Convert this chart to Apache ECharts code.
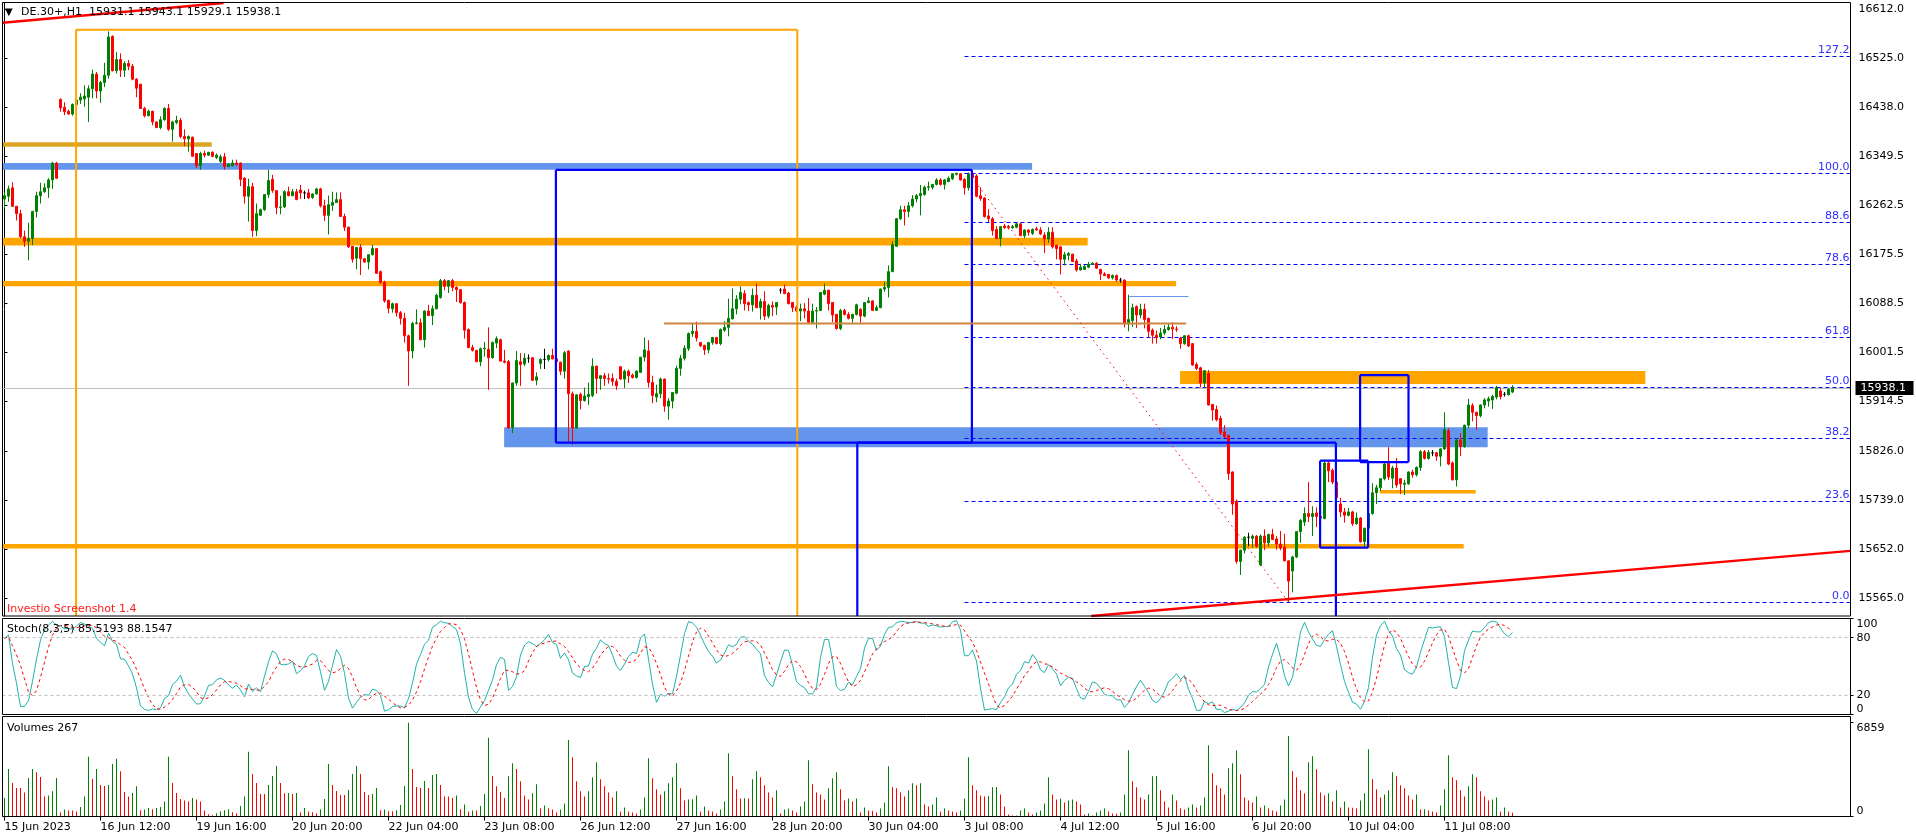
<!DOCTYPE html>
<html><head><meta charset="utf-8">
<script src="https://cdn.jsdelivr.net/npm/echarts@6.0.0/dist/echarts.min.js"></script>
<style>html,body{margin:0;padding:0;background:#fff;overflow:hidden}#c{width:1916px;height:840px}</style>
</head><body><div id="c"></div>
<script>
// ---------- categories (trading sessions, H1 bars) ----------
const dayLabels = ['15 Jun','16 Jun','19 Jun','20 Jun','21 Jun','22 Jun','23 Jun','26 Jun','27 Jun','28 Jun','29 Jun','30 Jun','3 Jul','4 Jul','5 Jul','6 Jul','7 Jul','10 Jul','11 Jul','12 Jul'];
const firstDayStartHour = 8, sessionStartHour = 2, sessionEndHour = 21;
const firstLabel = '15 Jun 2023';
const labelEvery = 24;

// ---------- OHLC (DE.30+, H1) ----------
const opens = [16274,16279,16294,16261,16248,16207,16199,16204,16252,16280,16287,16294,16308,16338,16451,16437,16430,16425,16442,16450,16452,16455,16470,16496,16466,16481,16494,16563,16502,16522,16503,16515,16510,16487,16478,16435,16422,16430,16411,16401,16415,16435,16398,16410,16414,16385,16381,16384,16355,16333,16355,16352,16357,16348,16341,16349,16332,16333,16338,16338,16311,16279,16296,16218,16245,16255,16282,16309,16289,16259,16260,16287,16280,16287,16290,16285,16285,16277,16283,16292,16262,16245,16263,16268,16273,16243,16224,16190,16169,16188,16168,16162,16175,16186,16145,16126,16094,16079,16088,16072,16062,16031,16004,16053,16054,16024,16075,16067,16079,16099,16129,16119,16129,16117,16113,16090,16042,16010,16005,15985,16008,16007,15992,16018,16024,15986,15985,15868,15947,15985,15981,15991,15992,15952,15982,15989,15989,15996,15990,15984,15968,16004,15928,15867,15927,15916,15923,15925,15977,15955,15960,15955,15955,15950,15976,15954,15968,15961,15957,15966,15993,16004,15948,15922,15928,15954,15906,15915,15929,15973,15991,16008,16035,16039,16019,16014,16006,16019,16028,16017,16041,16046,16061,16079,16096,16106,16090,16086,16103,16081,16092,16066,16085,16082,16112,16114,16107,16090,16082,16075,16079,16075,16055,16075,16076,16105,16112,16090,16069,16044,16076,16069,16062,16069,16078,16066,16090,16093,16076,16081,16114,16117,16145,16190,16239,16255,16252,16262,16274,16280,16282,16295,16295,16300,16308,16300,16305,16310,16318,16319,16309,16294,16318,16315,16280,16276,16244,16239,16220,16204,16226,16225,16223,16224,16230,16209,16219,16213,16221,16219,16210,16203,16215,16192,16189,16167,16174,16176,16164,16148,16149,16153,16158,16160,16149,16141,16140,16134,16138,16130,16130,16052,16058,16083,16068,16078,16062,16041,16032,16029,16036,16042,16046,16043,16027,16017,16031,16017,15980,15974,15947,15964,15909,15900,15884,15860,15854,15789,15737,15630,15650,15673,15671,15675,15624,15675,15663,15678,15670,15661,15655,15631,15613,15638,15683,15700,15715,15710,15716,15710,15706,15805,15792,15771,15732,15718,15712,15718,15697,15707,15665,15689,15715,15752,15761,15777,15804,15778,15796,15777,15767,15768,15789,15784,15797,15825,15813,15823,15823,15817,15830,15862,15805,15775,15846,15834,15872,15907,15895,15889,15908,15915,15917,15922,15933,15927,15926,15931.1];
const highs = [16286,16298,16304,16262,16255,16218,16232,16253,16287,16303,16302,16311,16340,16340,16453,16446,16433,16444,16454,16462,16476,16476,16504,16500,16484,16516,16572,16565,16535,16533,16519,16521,16514,16489,16479,16438,16433,16431,16412,16421,16437,16443,16413,16422,16418,16398,16387,16385,16355,16358,16360,16358,16359,16355,16353,16356,16337,16344,16344,16339,16313,16310,16303,16266,16257,16283,16326,16317,16290,16280,16290,16296,16292,16292,16299,16289,16292,16284,16294,16294,16273,16280,16287,16286,16286,16248,16225,16190,16189,16194,16169,16176,16193,16187,16147,16129,16095,16090,16089,16075,16072,16033,16056,16078,16062,16076,16086,16085,16106,16132,16132,16130,16132,16119,16114,16092,16044,16015,16006,16010,16020,16046,16021,16030,16026,16006,15988,15948,16004,16000,16000,15998,15993,15966,15991,16008,15998,16008,15993,15985,16004,16005,15932,15927,15930,15939,15948,15991,15978,15961,15965,15964,15964,15955,15977,15971,15971,15964,15970,15993,16028,16023,15960,15944,15957,15955,15920,15931,15978,15997,16014,16037,16053,16056,16020,16015,16020,16029,16029,16044,16057,16097,16115,16103,16119,16112,16092,16115,16124,16097,16110,16088,16092,16091,16116,16122,16109,16091,16085,16088,16089,16098,16088,16082,16109,16124,16113,16091,16070,16079,16079,16073,16070,16088,16080,16091,16100,16094,16085,16115,16127,16156,16199,16240,16262,16262,16269,16281,16283,16299,16298,16305,16301,16311,16311,16310,16314,16319,16320,16320,16311,16321,16320,16318,16295,16277,16256,16242,16226,16226,16230,16228,16228,16232,16231,16220,16220,16222,16225,16224,16215,16224,16224,16193,16190,16180,16180,16177,16168,16159,16157,16162,16162,16162,16150,16144,16141,16140,16140,16134,16131,16104,16088,16085,16088,16088,16063,16044,16040,16045,16050,16052,16055,16048,16029,16032,16033,16018,15984,15976,15970,15970,15910,15907,15889,15872,15855,15790,15740,15651,15675,15681,15678,15677,15678,15687,15679,15688,15675,15684,15679,15632,15640,15684,15705,15726,15771,15728,15726,15715,15808,15808,15795,15772,15743,15725,15725,15720,15717,15709,15690,15716,15769,15766,15778,15805,15833,15800,15814,15778,15775,15790,15793,15799,15828,15828,15828,15828,15825,15831,15895,15867,15808,15849,15858,15873,15919,15911,15896,15909,15920,15923,15926,15942,15938,15931,15938,15943.1];
const lows = [16257,16269,16260,16236,16205,16189,16165,16192,16241,16266,16285,16276,16292,16310,16429,16423,16424,16422,16438,16443,16438,16411,16453,16453,16445,16473,16488,16501,16497,16491,16491,16503,16485,16455,16434,16419,16421,16405,16400,16398,16413,16395,16376,16407,16382,16368,16358,16349,16329,16326,16348,16351,16348,16345,16338,16326,16331,16333,16333,16297,16266,16234,16207,16208,16244,16253,16276,16285,16247,16247,16258,16279,16279,16272,16274,16274,16274,16274,16282,16259,16235,16211,16253,16267,16242,16217,16187,16161,16149,16139,16161,16149,16174,16141,16123,16090,16071,16072,16065,16051,16019,15942,15991,16051,16023,16010,16066,16050,16078,16097,16112,16107,16110,16091,16088,16026,16009,16003,15984,15977,15994,15935,15990,16009,15985,15982,15866,15858,15942,15942,15977,15983,15951,15943,15972,15972,15985,15989,15980,15961,15955,15843,15837,15866,15900,15914,15908,15922,15928,15935,15942,15946,15942,15935,15953,15938,15947,15955,15955,15965,15985,15939,15911,15913,15920,15896,15882,15902,15927,15960,15987,16004,16029,16021,16011,15997,16000,16015,16016,16014,16038,16030,16060,16069,16087,16076,16075,16074,16080,16060,16059,16062,16066,16068,16106,16105,16087,16073,16073,16057,16062,16052,16053,16044,16075,16103,16076,16055,16042,16041,16067,16060,16054,16067,16054,16064,16089,16075,16075,16080,16109,16099,16144,16189,16237,16227,16242,16259,16268,16245,16280,16289,16291,16298,16298,16291,16304,16308,16316,16307,16282,16289,16305,16277,16271,16241,16233,16209,16203,16190,16221,16220,16221,16222,16208,16204,16209,16210,16218,16210,16178,16196,16186,16167,16140,16156,16165,16162,16145,16147,16148,16151,16157,16150,16130,16137,16132,16131,16127,16125,16046,16039,16047,16045,16062,16044,16028,16017,16017,16025,16032,16040,16025,16038,16008,16015,16011,15978,15970,15939,15938,15907,15880,15879,15855,15849,15775,15713,15626,15606,15644,15657,15654,15654,15622,15650,15656,15668,15651,15650,15630,15558,15575,15636,15663,15693,15700,15675,15691,15700,15705,15771,15767,15731,15709,15699,15710,15693,15695,15663,15656,15686,15713,15732,15755,15774,15775,15760,15761,15750,15748,15766,15779,15781,15791,15811,15811,15817,15809,15799,15828,15801,15774,15763,15817,15832,15867,15879,15864,15886,15902,15905,15901,15918,15918,15923,15925,15929.1];
const closes = [16280,16292,16261,16248,16207,16199,16204,16252,16280,16287,16294,16308,16338,16311,16436,16429,16425,16442,16450,16455,16457,16470,16496,16466,16481,16494,16562,16502,16522,16503,16515,16510,16487,16471,16435,16422,16430,16411,16401,16415,16435,16398,16411,16414,16385,16381,16385,16350,16333,16355,16352,16357,16350,16352,16349,16332,16336,16338,16335,16309,16279,16296,16218,16248,16255,16282,16307,16289,16259,16260,16287,16280,16287,16273,16285,16285,16276,16283,16292,16262,16245,16264,16268,16273,16243,16224,16189,16167,16188,16168,16162,16175,16186,16142,16126,16093,16080,16088,16072,16062,16031,16004,16053,16054,16024,16075,16067,16079,16103,16129,16119,16129,16117,16113,16090,16041,16010,16005,15985,16008,16009,15992,16019,16026,15986,15984,15867,15947,15987,15980,15991,15991,15952,15958,15989,15989,15996,15990,15985,15968,16001,15928,15867,15926,15916,15924,15927,15977,15955,15960,15955,15954,15950,15942,15954,15968,15960,15957,15968,15993,16006,15948,15925,15928,15954,15906,15915,15930,15973,15991,16009,16035,16039,16027,16013,16006,16019,16028,16017,16042,16046,16062,16079,16096,16108,16088,16086,16103,16081,16092,16066,16085,16082,16090,16112,16106,16088,16081,16075,16079,16075,16055,16075,16076,16108,16112,16088,16068,16044,16076,16069,16062,16069,16086,16066,16090,16093,16076,16081,16114,16117,16145,16193,16239,16255,16252,16262,16274,16280,16284,16295,16296,16300,16308,16300,16308,16311,16319,16320,16308,16294,16318,16312,16279,16275,16243,16239,16218,16204,16225,16223,16223,16225,16230,16209,16219,16215,16220,16219,16212,16203,16215,16189,16186,16167,16175,16177,16163,16148,16153,16154,16158,16160,16151,16141,16138,16134,16138,16130,16130,16052,16060,16081,16068,16078,16060,16039,16032,16028,16036,16042,16046,16043,16042,16017,16031,16013,15979,15973,15947,15969,15908,15899,15882,15858,15852,15786,15732,15630,15650,15673,15673,15675,15657,15675,15663,15678,15669,15661,15654,15631,15595,15638,15683,15703,15715,15710,15715,15710,15707,15805,15791,15771,15743,15718,15712,15718,15697,15707,15665,15689,15715,15752,15761,15777,15803,15780,15796,15766,15768,15769,15789,15784,15797,15825,15813,15824,15823,15817,15830,15864,15803,15775,15846,15834,15872,15908,15895,15889,15908,15917,15919,15923,15939,15923,15927,15936,15938.1];
const volumes = [1348,3479,2450,2083,2075,1764,2818,3480,3234,2891,1470,1544,1838,2818,294,515,441,440,368,686,1470,4361,2744,3479,2303,2230,2303,3847,4214,3308,1789,1470,1715,2205,466,515,613,539,613,686,1103,4361,2450,1715,1274,1176,1103,1348,1250,1103,441,172,98,245,392,466,539,319,245,760,1470,4729,3112,2450,1642,1640,2303,2965,3700,2450,1691,1715,1642,1715,294,613,368,319,245,539,1274,3847,2303,1862,1568,1565,1936,3112,3700,3112,1789,1568,1642,2083,466,515,392,390,466,833,2230,6859,3479,2156,2083,2597,2083,3038,3112,2303,1470,1465,1348,1544,539,882,368,441,438,760,1642,5758,2965,2205,1789,1348,2940,3896,3479,2573,1544,1250,1691,2352,588,809,588,515,294,515,956,5586,4337,2573,1838,1470,1838,2867,3969,2720,2205,1764,1397,1838,368,662,368,294,221,515,1397,4263,2793,1985,1617,1838,2426,2867,3896,2058,1176,1250,1260,1544,368,735,441,368,221,515,1103,4631,2940,1985,1323,1330,1320,2720,3308,2867,2279,1764,1397,1911,221,515,588,441,294,735,1103,4116,2352,1764,1617,1250,2058,2793,3234,1985,1176,1323,1103,1323,294,662,441,417,294,588,1029,3675,2132,2058,1764,1470,1911,2426,2279,2426,882,735,882,1397,368,588,441,368,294,441,1323,4337,2279,1911,1544,1470,1495,2132,2156,1617,735,147,74,80,441,588,294,147,294,441,956,2867,1617,1250,1323,1029,1176,1250,1103,882,147,221,74,294,441,588,368,221,196,294,1617,4851,2573,2132,1397,1250,1617,2940,2965,1911,1103,662,1617,1176,588,515,662,882,662,809,1397,5219,3161,2279,2058,1617,3528,3896,4851,3087,1397,1176,1029,1470,662,809,588,441,368,809,1250,5880,3308,2867,1911,1691,3969,4410,3455,1764,1544,1691,1103,1911,662,1103,662,637,588,1176,1691,4925,2720,1985,1397,1617,1911,3234,2940,2279,2058,1544,1250,1617,515,539,441,368,294,809,1985,4484,2867,2646,1911,1470,2205,3087,2867,1838,1470,1176,1250,1397,368,662,368,267];

// ---------- axis tick labels ----------
const priceTicks = [16612.0,16525.0,16438.0,16349.5,16262.5,16175.5,16088.5,16001.5,15914.5,15826.0,15739.0,15652.0,15565.0];
const stochTicks = [0,20,80,100];
const volumeTicks = [0,6859];
const lastPrice = 15938.1;

// ---------- Fibonacci ----------
const fibHigh = 16321, fibLow = 15558, fibStartBar = 240;
const fibLevels = [0, 23.6, 38.2, 50, 61.8, 78.6, 88.6, 100, 127.2];
const fibDiagonal = [241, 16321, 321, 15558];

// ---------- drawn objects (bar index, price) ----------
const blueBands   = [[-5, 256.9, 16326, 16338], [124.9, 370.8, 15833, 15868.4]];
const goldBands   = [[-5, 51.8, 16367, 16375]];
const orangeBands = [[-5, 270.8, 16191.4, 16205], [-5, 292.9, 16118.8, 16128.4], [-5, 364.8, 15653, 15661], [293.9, 410.2, 15945.3, 15968.3], [343.8, 367.8, 15750.5, 15757]];
const orangeFrames = [[17.9, 198.2, 15300, 16575]];
const blueFrames   = [[137.85, 241.85, 15841, 16326], [213.2, 332.85, 15300, 15841], [328.9, 340.9, 15654.4, 15809], [338.9, 351, 15806.6, 15961]];
const peruLines    = [[164.9, 295.4, 16053]];
const lightBlueLines = [[281.2, 296, 16102]];
const redRays = [[0, 16587.5, 54, 16621.9], [284, 15540.5, 462, 15649]];

// ---------- derived ----------
const N = opens.length, SLOTS = 462;
const cats = [];
dayLabels.forEach((d, k) => {
  for (let h = (k === 0 ? firstDayStartHour : sessionStartHour); h <= sessionEndHour; h++)
    cats.push(d + ' ' + String(h).padStart(2, '0') + ':00');
});
cats.length = N;
while (cats.length < SLOTS) cats.push('');

function stochastic(kP, slow, dP) {
  const num = [], den = [], main = [], sig = [];
  for (let i = 0; i < N; i++) {
    let ll = Infinity, hh = -Infinity;
    for (let j = Math.max(0, i - kP + 1); j <= i; j++) { ll = Math.min(ll, lows[j]); hh = Math.max(hh, highs[j]); }
    num.push(closes[i] - ll); den.push(hh - ll);
    let sn = 0, sd = 0;
    for (let j = Math.max(0, i - slow + 1); j <= i; j++) { sn += num[j]; sd += den[j]; }
    main.push(sd === 0 ? 100 : sn / sd * 100);
    let s = 0, c = 0;
    for (let j = Math.max(0, i - dP + 1); j <= i; j++) { s += main[j]; c++; }
    sig.push(s / c);
  }
  return [main, sig];
}
const [stochMain, stochSignal] = stochastic(8, 3, 5);

const FONT = '"DejaVu Sans", Verdana, sans-serif';
function clipSeg(x1, y1, x2, y2, r) {
  let t0 = 0, t1 = 1; const dx = x2 - x1, dy = y2 - y1;
  const p = [-dx, dx, -dy, dy], q = [x1 - r.x, r.x + r.width - x1, y1 - r.y, r.y + r.height - y1];
  for (let k = 0; k < 4; k++) {
    if (p[k] === 0) { if (q[k] < 0) return null; }
    else { const t = q[k] / p[k]; if (p[k] < 0) { if (t > t1) return null; if (t > t0) t0 = t; } else { if (t < t0) return null; if (t < t1) t1 = t; } }
  }
  return { x1: x1 + t0 * dx, y1: y1 + t0 * dy, x2: x1 + t1 * dx, y2: y1 + t1 * dy };
}
function rectOf(params) { const c = params.coordSys; return { x: c.x, y: c.y, width: c.width, height: c.height }; }
function seg(R, a, b, style) {
  const s = clipSeg(a[0], a[1], b[0], b[1], R);
  return s ? { type: 'line', shape: s, style: style, silent: true } : null;
}
function clipBox(a, c, R) {
  const x1 = Math.max(Math.min(a[0], c[0]), R.x), x2 = Math.min(Math.max(a[0], c[0]), R.x + R.width);
  const y1 = Math.max(Math.min(a[1], c[1]), R.y), y2 = Math.min(Math.max(a[1], c[1]), R.y + R.height);
  if (x2 <= x1 || y2 <= y1) return null;
  return { x: x1, y: y1, width: x2 - x1, height: y2 - y1 };
}

function renderBackground(params, api) {
  const R = rectOf(params), ch = [];
  const band = (b, color) => {
    const s = clipBox(api.coord([b[0], b[3]]), api.coord([b[1], b[2]]), R);
    if (s) ch.push({ type: 'rect', shape: s, style: { fill: color } });
  };
  blueBands.forEach(b => band(b, '#6495ED'));
  goldBands.forEach(b => band(b, '#DAA520'));
  orangeBands.forEach(b => band(b, '#FFA500'));
  const ly = Math.round(api.coord([0, lastPrice])[1]) + 0.5;
  ch.push({ type: 'line', shape: { x1: R.x, y1: ly, x2: R.x + R.width, y2: ly }, style: { stroke: '#C0C0C0', lineWidth: 1 } });
  fibLevels.forEach(l => {
    const price = fibLow + (fibHigh - fibLow) * l / 100;
    const p = api.coord([fibStartBar, price]);
    const y = Math.round(p[1]) + 0.5;
    ch.push({ type: 'line', shape: { x1: p[0], y1: y, x2: R.x + R.width, y2: y }, style: { stroke: '#0000FF', lineWidth: 1, lineDash: [4, 3] } });
    ch.push({ type: 'text', x: R.x + R.width - 1, y: y - 1, style: { text: l.toFixed(1), fill: '#2f2fff', font: '11px ' + FONT, align: 'right', verticalAlign: 'bottom' } });
  });
  return { type: 'group', children: ch };
}

function renderForeground(params, api) {
  const R = rectOf(params), ch = [];
  const push = e => { if (e) ch.push(e); };
  const frame = (f, st) => {
    const tl = api.coord([f[0], f[3]]), br = api.coord([f[1], f[2]]);
    push(seg(R, [tl[0], tl[1]], [br[0], tl[1]], st));
    push(seg(R, [br[0], tl[1]], [br[0], br[1]], st));
    push(seg(R, [br[0], br[1]], [tl[0], br[1]], st));
    push(seg(R, [tl[0], br[1]], [tl[0], tl[1]], st));
  };
  orangeFrames.forEach(f => frame(f, { stroke: '#FFA500', lineWidth: 2 }));
  blueFrames.forEach(f => frame(f, { stroke: '#0000FF', lineWidth: 2.2 }));
  peruLines.forEach(l => { const a = api.coord([l[0], l[2]]), b = api.coord([l[1], l[2]]); push(seg(R, a, b, { stroke: '#CD853F', lineWidth: 2 })); });
  lightBlueLines.forEach(l => { const a = api.coord([l[0], l[2]]), b = api.coord([l[1], l[2]]); a[1] = b[1] = Math.round(a[1]) + 0.5; push(seg(R, a, b, { stroke: '#6495ED', lineWidth: 1 })); });
  redRays.forEach(r => {
    const a = api.coord([r[0], r[1]]), b = api.coord([r[2], r[3]]);
    const dx = b[0] - a[0], dy = b[1] - a[1];
    push(seg(R, [a[0] - dx * 20, a[1] - dy * 20], [a[0] + dx * 20, a[1] + dy * 20], { stroke: '#FF0000', lineWidth: 2.4 }));
  });
  const d1 = api.coord([fibDiagonal[0], fibDiagonal[1]]), d2 = api.coord([fibDiagonal[2], fibDiagonal[3]]);
  push(seg(R, d1, d2, { stroke: '#FF0000', lineWidth: 1, lineDash: [1.5, 4] }));
  const y = Math.round(api.coord([0, lastPrice])[1]);
  ch.push({ type: 'rect', shape: { x: R.x + R.width + 5, y: y - 7, width: 58, height: 14 }, style: { fill: '#000' } });
  ch.push({ type: 'text', x: R.x + R.width + 10, y: y, style: { text: lastPrice.toFixed(1), fill: '#fff', font: '11px ' + FONT, align: 'left', verticalAlign: 'middle' } });
  return { type: 'group', children: ch };
}

const chart = echarts.init(document.getElementById('c'), null, { renderer: 'canvas' });
const hidden = { show: false };
const GL = 2.5, GW = 1848;
const grids = [
  { left: GL, top: 3, width: GW, height: 613, outerBoundsMode: 'none', containLabel: false },
  { left: GL, top: 618.5, width: GW, height: 96, outerBoundsMode: 'none', containLabel: false },
  { left: GL, top: 722.7, width: GW, height: 93.8, outerBoundsMode: 'none', containLabel: false }
];
const showIdx = (idx) => idx % labelEvery === 0 && idx < N;
const txt = (x, y, text, color, size) => ({ type: 'text', x: x, y: y, silent: true, z: 110, style: { text: text, fill: color, font: size + 'px ' + FONT, verticalAlign: 'middle', align: 'left' } });
const frameRect = (y, h) => ({ type: 'rect', silent: true, z: 100, shape: { x: 2.5, y: y, width: 1848, height: h }, style: { fill: 'none', stroke: '#000', lineWidth: 1 } });

chart.setOption({
  animation: false,
  backgroundColor: '#fff',
  grid: grids,
  xAxis: [
    { type: 'category', gridIndex: 0, data: cats, axisLine: hidden, axisTick: hidden, axisLabel: hidden, splitLine: hidden },
    { type: 'value', gridIndex: 0, min: -0.5, max: SLOTS - 0.5, show: false },
    { type: 'category', gridIndex: 1, data: cats, axisLine: hidden, axisTick: hidden, axisLabel: hidden, splitLine: hidden },
    { type: 'category', gridIndex: 2, data: cats, axisLine: hidden, splitLine: hidden,
      axisTick: { show: true, alignWithLabel: true, interval: showIdx, length: 4, lineStyle: { color: '#000' } },
      axisLabel: { show: true, interval: showIdx, align: 'left', margin: 5, color: '#000', fontSize: 11, fontFamily: FONT,
        formatter: (v, idx) => idx === 0 ? firstLabel : v, hideOverlap: false } }
  ],
  yAxis: [
    { type: 'value', gridIndex: 0, position: 'right', min: 15533.0, max: 16622.4, splitLine: hidden,
      axisLine: { show: true, lineStyle: { color: '#000' } },
      axisTick: { show: true, length: 3, customValues: priceTicks, lineStyle: { color: '#000' } },
      axisLabel: { show: true, customValues: priceTicks, margin: 8, color: '#000', fontSize: 11, fontFamily: FONT, formatter: v => Number(v).toFixed(1) } },
    { type: 'value', gridIndex: 1, position: 'right', min: 0, max: 100, splitLine: hidden,
      axisLine: { show: true, lineStyle: { color: '#000' } },
      axisTick: { show: true, length: 3, customValues: stochTicks, lineStyle: { color: '#000' } },
      axisLabel: { show: true, customValues: stochTicks, margin: 6, color: '#000', fontSize: 11, fontFamily: FONT, formatter: v => String(v),
        verticalAlignMinLabel: 'bottom', verticalAlignMaxLabel: 'top', showMinLabel: true, showMaxLabel: true } },
    { type: 'value', gridIndex: 2, position: 'right', min: 0, max: 6859, splitLine: hidden,
      axisLine: { show: true, lineStyle: { color: '#000' } },
      axisTick: { show: true, length: 3, customValues: volumeTicks, lineStyle: { color: '#000' } },
      axisLabel: { show: true, customValues: volumeTicks, margin: 6, color: '#000', fontSize: 11, fontFamily: FONT, formatter: v => String(v),
        verticalAlignMinLabel: 'bottom', verticalAlignMaxLabel: 'top', showMinLabel: true, showMaxLabel: true } }
  ],
  series: [
    { type: 'custom', name: 'objectsBack', xAxisIndex: 1, yAxisIndex: 0, z: 1, silent: true, clip: false,
      data: [[0, 16000]], renderItem: renderBackground },
    { type: 'candlestick', name: 'DE.30+', xAxisIndex: 0, yAxisIndex: 0, z: 2, barWidth: 2,
      data: opens.map((o, i) => [o, closes[i], lows[i], highs[i]]),
      itemStyle: { color: '#008000', color0: '#FF0000', borderColor: '#008000', borderColor0: '#FF0000', borderColorDoji: '#000000', borderWidth: 1 } },
    { type: 'custom', name: 'objectsFront', xAxisIndex: 1, yAxisIndex: 0, z: 3, silent: true, clip: false,
      data: [[0, 16000]], renderItem: renderForeground },
    { type: 'line', name: 'Stoch main', xAxisIndex: 2, yAxisIndex: 1, data: stochMain, symbol: 'none', showSymbol: false,
      lineStyle: { color: '#20B2AA', width: 1 }, z: 3,
      markLine: { silent: true, symbol: 'none', label: hidden, lineStyle: { color: '#C0C0C0', type: [3, 3], width: 1 }, data: [{ yAxis: 20 }, { yAxis: 80 }] } },
    { type: 'line', name: 'Stoch signal', xAxisIndex: 2, yAxisIndex: 1, data: stochSignal, symbol: 'none', showSymbol: false,
      lineStyle: { color: '#FF0000', width: 1, type: [3, 3] }, z: 4 },
    { type: 'bar', name: 'Volumes', xAxisIndex: 3, yAxisIndex: 2, data: volumes, barWidth: 1,
      itemStyle: { color: p => (p.dataIndex === 0 || volumes[p.dataIndex] > volumes[p.dataIndex - 1]) ? '#008000' : '#FF0000' } }
  ],
  graphic: { elements: [
    frameRect(2.5, 613.5), frameRect(618.5, 96), frameRect(716.5, 100),
    txt(5, 12.5, '▼', '#000', 10),
    txt(21, 12.5, 'DE.30+,H1  15931.1 15943.1 15929.1 15938.1', '#000', 11),
    txt(7, 609, 'Investio Screenshot 1.4', '#FF1A1A', 11),
    txt(7, 629, 'Stoch(8,3,5) 85.5193 88.1547', '#000', 11),
    txt(7, 728, 'Volumes 267', '#000', 11)
  ] }
});
</script>
</body></html>
